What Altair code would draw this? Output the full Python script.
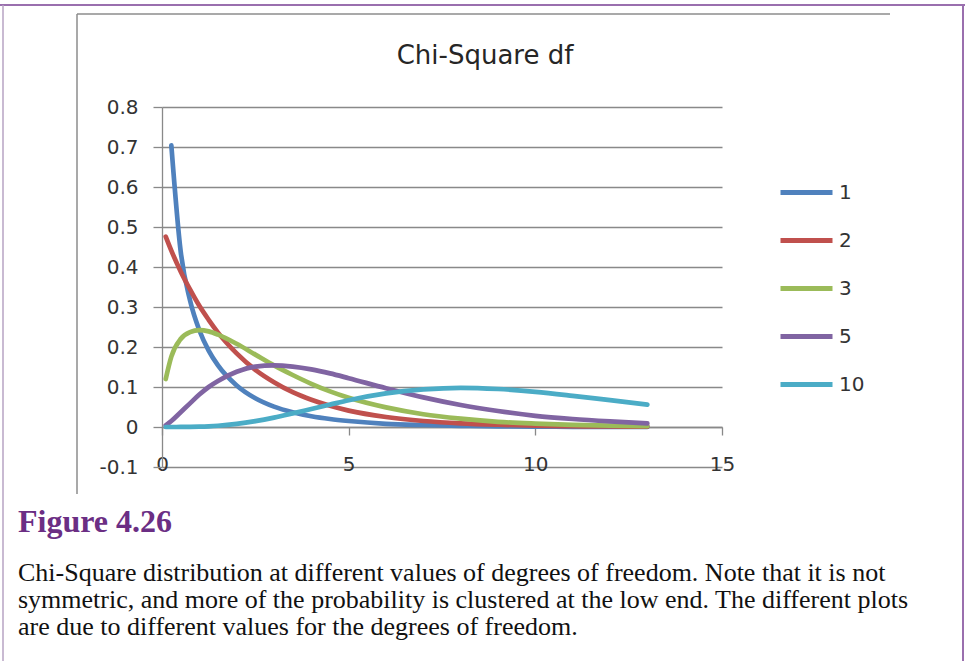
import altair as alt
import pandas as pd

# Chi-square density values for each degrees-of-freedom series
x_values = [0.1, 0.25, 0.5, 0.75, 1.0, 1.25, 1.5, 2, 2.5, 3, 3.5, 4, 4.5, 5,
            6, 7, 8, 9, 10, 11, 12, 13]
pdf_df1 = [None, 0.704, 0.439, 0.317, 0.242, 0.191, 0.154, 0.104, 0.072, 0.051,
           0.037, 0.027, 0.020, 0.015, 0.008, 0.005, 0.003, 0.0015, 0.0009,
           0.0005, 0.0003, 0.0002]
pdf_df2 = [0.476, 0.441, 0.389, 0.344, 0.303, 0.268, 0.236, 0.184, 0.143, 0.112,
           0.087, 0.068, 0.053, 0.041, 0.025, 0.015, 0.009, 0.0056, 0.0034,
           0.0020, 0.0012, 0.0008]
pdf_df3 = [0.120, 0.176, 0.220, 0.237, 0.242, 0.239, 0.231, 0.208, 0.181, 0.154,
           0.130, 0.108, 0.089, 0.073, 0.049, 0.032, 0.021, 0.013, 0.0085,
           0.0054, 0.0034, 0.0022]
pdf_df5 = [0.004, 0.015, 0.037, 0.059, 0.081, 0.100, 0.115, 0.138, 0.151, 0.154,
           0.151, 0.144, 0.134, 0.122, 0.097, 0.074, 0.055, 0.040, 0.028,
           0.020, 0.014, 0.009]
pdf_df10 = [0.0, 0.0, 0.0001, 0.0003, 0.0008, 0.0017, 0.0031, 0.0077, 0.0146,
            0.0235, 0.034, 0.045, 0.056, 0.067, 0.084, 0.094, 0.098, 0.095,
            0.088, 0.078, 0.067, 0.056]

series_names = ["1", "2", "3", "5", "10"]
series_values = [pdf_df1, pdf_df2, pdf_df3, pdf_df5, pdf_df10]
series_colors = ["#4F81BD", "#C0504D", "#9BBB59", "#8064A2", "#4BACC6"]

y_ticks = [-0.1, 0, 0.1, 0.2, 0.3, 0.4, 0.5, 0.6, 0.7, 0.8]
x_ticks = [0, 5, 10, 15]

chart_title = "Chi-Square df"
figure_label = "Figure 4.26"
caption_lines = [
    "Chi-Square distribution at different values of degrees of freedom. Note that it is not",
    "symmetric, and more of the probability is clustered at the low end. The different plots",
    "are due to different values for the degrees of freedom.",
]

rows = []
for name, vals in zip(series_names, series_values):
    for xv, yv in zip(x_values, vals):
        if yv is not None:
            rows.append({"x": xv, "density": yv, "series": name})
data = pd.DataFrame(rows)

PLOT_W, PLOT_H = 560, 360
PAD = {"left": 162, "top": 107, "right": 243, "bottom": 194}
AXIS_GRAY = "#898989"
TEXT_GRAY = "#333333"
SANS = "DejaVu Sans"
SERIF = "Liberation Serif"

x_enc = alt.X(
    "x:Q",
    scale=alt.Scale(domain=[0, 15], nice=False, zero=False),
    axis=alt.Axis(
        values=x_ticks, grid=False, offset=-40, title=None,
        domainColor=AXIS_GRAY, domainWidth=1.3,
        tickColor=AXIS_GRAY, tickWidth=1.3, tickSize=8,
        labelFont=SANS, labelFontSize=20, labelColor=TEXT_GRAY,
        labelPadding=19, labelFlush=False, labelOverlap=False, format="d",
    ),
)
y_enc = alt.Y(
    "density:Q",
    scale=alt.Scale(domain=[-0.1, 0.8], nice=False, zero=False),
    axis=alt.Axis(
        values=y_ticks, grid=True, title=None,
        gridColor=AXIS_GRAY, gridWidth=1.3, gridOpacity=1,
        domainColor=AXIS_GRAY, domainWidth=1.3,
        tickColor=AXIS_GRAY, tickWidth=1.3, tickSize=9,
        labelFont=SANS, labelFontSize=20, labelColor=TEXT_GRAY,
        labelPadding=15, labelOverlap=False,
        labelExpr="datum.value < 0 ? '-' + format(abs(datum.value), '.1f') : "
                  "(datum.value == 0 ? '0' : format(datum.value, '.1f'))",
    ),
)
color_enc = alt.Color(
    "series:N",
    sort=series_names,
    scale=alt.Scale(domain=series_names, range=series_colors),
    legend=alt.Legend(
        orient="none", legendX=616, legendY=57, title=None, padding=0,
        symbolType="stroke", symbolSize=2704, symbolStrokeWidth=5,
        labelFont=SANS, labelFontSize=20, labelColor=TEXT_GRAY,
        labelOffset=4, rowPadding=9,
    ),
)

# One layer per series so the higher df curves sit on top
line_layers = [
    alt.Chart(data)
    .transform_filter(alt.datum.series == name)
    .mark_line(strokeWidth=4.7, strokeCap="round", interpolate="monotone")
    .encode(x=x_enc, y=y_enc, color=color_enc)
    for name in series_names
]

one = pd.DataFrame({"k": [0]})
ox, oy = PAD["left"], PAD["top"]


def rule(x1, y1, x2, y2, color, width):
    return alt.Chart(one).mark_rule(color=color, strokeWidth=width).encode(
        x=alt.value(x1 - ox), x2=alt.value(x2 - ox),
        y=alt.value(y1 - oy), y2=alt.value(y2 - oy),
    )


def label(text, x, y, font, size, color, align="left", weight="normal"):
    return alt.Chart(one).mark_text(
        text=text, font=font, fontSize=size, color=color, fontWeight=weight,
        align=align, baseline="alphabetic",
    ).encode(x=alt.value(x - ox), y=alt.value(y - oy))


PURPLE_LINE = "#9a6fae"
FRAME_GRAY = "#8c8c8c"

decor = [
    rule(0, 5, 965, 5, PURPLE_LINE, 2),
    rule(963, 5, 963, 661, PURPLE_LINE, 2),
    rule(3, 5, 3, 661, "#b7a3c3", 1.5),
    rule(77, 14, 890, 14, FRAME_GRAY, 1.5),
    rule(77, 14, 77, 494, FRAME_GRAY, 1.5),
    label(chart_title, 485, 64, SANS, 26, "#262626", align="center"),
    label(figure_label, 18, 532, SERIF, 32, "#6b2e84", weight="bold"),
]
for i, line in enumerate(caption_lines):
    decor.append(label(line, 18, 581 + i * 27, SERIF, 26, "#111111"))

chart = (
    alt.layer(*decor, *line_layers)
    .properties(width=PLOT_W, height=PLOT_H, padding=PAD,
                autosize=alt.AutoSizeParams(type="none"), background="white")
    .configure_view(stroke=None)
)

chart.save("out.html", embed_options={"renderer": "svg", "actions": False})
